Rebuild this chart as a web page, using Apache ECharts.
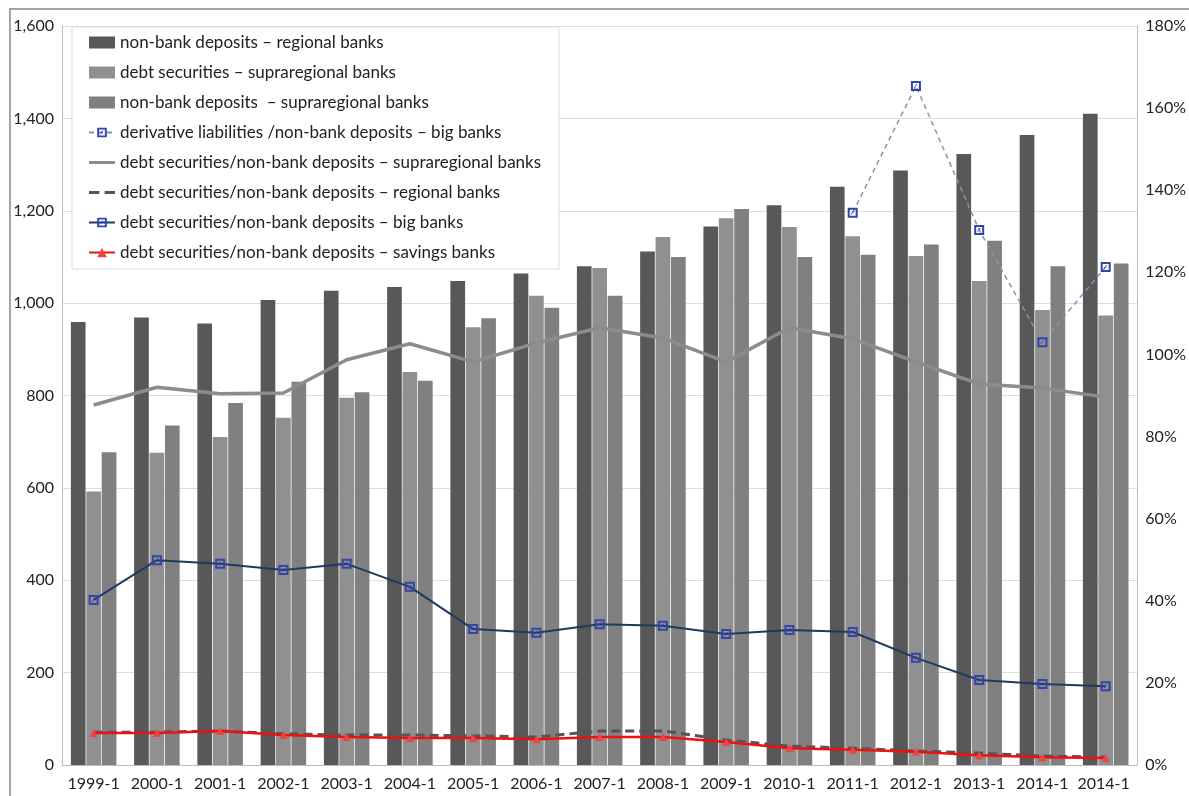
<!DOCTYPE html>
<html>
<head>
<meta charset="utf-8">
<script src="https://cdn.jsdelivr.net/npm/echarts@6/dist/echarts.min.js"></script>
<style>html,body{margin:0;padding:0;background:#fff}</style>
</head>
<body>
<div id="main" style="width:1189px;height:796px;"></div>
<script type="text/javascript">
var categories = ['1999-1','2000-1','2001-1','2002-1','2003-1','2004-1','2005-1','2006-1','2007-1','2008-1','2009-1','2010-1','2011-1','2012-1','2013-1','2014-1','2014-1 '];
var depRegional = [959,969,956,1007,1027,1035,1048,1064,1080,1112,1166,1212,1252,1287,1323,1364,1410];
var debtSupra = [592,676,710,752,795,851,948,1016,1076,1143,1184,1165,1145,1102,1048,985,973];
var depSupra = [677,735,784,830,807,832,967,990,1016,1100,1204,1100,1105,1127,1135,1080,1086];
var derivBig = [null,null,null,null,null,null,null,null,null,null,null,null,134.5,165.4,130.3,103,121.3];
var ratioSupra = [87.7,92,90.4,90.6,98.7,102.6,98.2,102.8,106.5,104,98.2,106.5,103.8,98.2,92.8,91.8,89.6];
var ratioRegional = [8,8,8.3,7.6,7.3,7.3,7.1,6.8,8.3,8.3,6.1,4.6,4.1,3.4,2.9,2.2,1.9];
var ratioBig = [40.2,49.9,49,47.5,49,43.4,33.1,32.2,34.3,33.9,31.9,32.9,32.4,26.1,20.7,19.7,19.2];
var ratioSavings = [7.8,7.8,8.3,7.3,6.8,6.6,6.6,6.3,6.8,6.8,5.6,4.1,3.7,3.2,2.4,1.9,1.7];

var chart = echarts.init(document.getElementById('main'));
var font = 'Lato';
var boxIcon = 'path://M0,0H10V10H0ZM2,2V8H8V2ZM3.5,7L6.5,3H5.5L3,6.5Z';
var solidIcon = 'path://M0,0H26V3H0Z';
var dashIcon = 'path://M0,0H10V3H0ZM15,0H25V3H15Z';
var option = {
  animation: false,
  textStyle: {fontFamily: font},
  graphic: [{type: 'rect', shape: {x: 10, y: 9, width: 1185, height: 800}, style: {fill: 'none', stroke: '#888', lineWidth: 1.5}}],
  legend: {
    orient: 'vertical', left: 72, top: 27, itemGap: 13, itemWidth: 26, itemHeight: 12,
    backgroundColor: '#fff', borderColor: '#ddd', borderWidth: 1, padding: [7, 18, 8, 16],
    textStyle: {fontSize: 17, color: '#222', fontFamily: font},
    data: [
      {name: 'non-bank deposits – regional banks', icon: 'rect'},
      {name: 'debt securities – supraregional banks', icon: 'rect'},
      {name: 'non-bank deposits  – supraregional banks', icon: 'rect'},
      'derivative liabilities /non-bank deposits – big banks',
      {name: 'debt securities/non-bank deposits – supraregional banks', icon: solidIcon, itemHeight: 3},
      {name: 'debt securities/non-bank deposits – regional banks', icon: dashIcon, itemHeight: 3},
      'debt securities/non-bank deposits – big banks',
      'debt securities/non-bank deposits – savings banks'
    ]
  },
  grid: {left: 62, right: 49, top: 26, bottom: 31},
  xAxis: {
    type: 'category', data: categories,
    axisLine: {lineStyle: {color: '#bbb'}}, axisTick: {lineStyle: {color: '#bbb'}},
    axisLabel: {color: '#222', fontSize: 16, margin: 11, interval: 0}
  },
  yAxis: [
    {type: 'value', min: 0, max: 1600, interval: 200,
     axisLabel: {color: '#222', fontSize: 16, formatter: function (v) { return v.toLocaleString('en-US'); }},
     axisLine: {show: true, lineStyle: {color: '#bbb'}},
     splitLine: {lineStyle: {color: '#ddd'}}},
    {type: 'value', min: 0, max: 180, interval: 20, position: 'right',
     axisLabel: {color: '#222', fontSize: 16, formatter: '{value}%'},
     axisLine: {show: true, lineStyle: {color: '#bbb'}},
     splitLine: {show: false}}
  ],
  series: [
    {name: 'non-bank deposits – regional banks', type: 'bar', data: depRegional, barGap: '5%', barCategoryGap: '28%', itemStyle: {color: '#585858'}},
    {name: 'debt securities – supraregional banks', type: 'bar', data: debtSupra, itemStyle: {color: '#909090'}},
    {name: 'non-bank deposits  – supraregional banks', type: 'bar', data: depSupra, itemStyle: {color: '#808080'}},
    {name: 'derivative liabilities /non-bank deposits – big banks', type: 'line', yAxisIndex: 1, data: derivBig,
     symbol: boxIcon, symbolSize: 10, lineStyle: {color: '#7f95b8', width: 1.5, type: [5, 4]}, itemStyle: {color: '#3344aa'}},
    {name: 'debt securities/non-bank deposits – supraregional banks', type: 'line', yAxisIndex: 1, data: ratioSupra,
     symbol: 'none', lineStyle: {color: '#8c8c8c', width: 3.5}, itemStyle: {color: '#8c8c8c'}},
    {name: 'debt securities/non-bank deposits – regional banks', type: 'line', yAxisIndex: 1, data: ratioRegional,
     symbol: 'none', lineStyle: {color: '#555', width: 3, type: [9, 5]}, itemStyle: {color: '#555'}},
    {name: 'debt securities/non-bank deposits – big banks', type: 'line', yAxisIndex: 1, data: ratioBig,
     symbol: boxIcon, symbolSize: 10, lineStyle: {color: '#1f3a60', width: 2}, itemStyle: {color: '#3344aa'}},
    {name: 'debt securities/non-bank deposits – savings banks', type: 'line', yAxisIndex: 1, data: ratioSavings,
     symbol: 'triangle', symbolSize: 8, lineStyle: {color: '#ee1111', width: 2.5}, itemStyle: {color: '#ee4444'}}
  ]
};
chart.setOption(option);
</script>
</body>
</html>
